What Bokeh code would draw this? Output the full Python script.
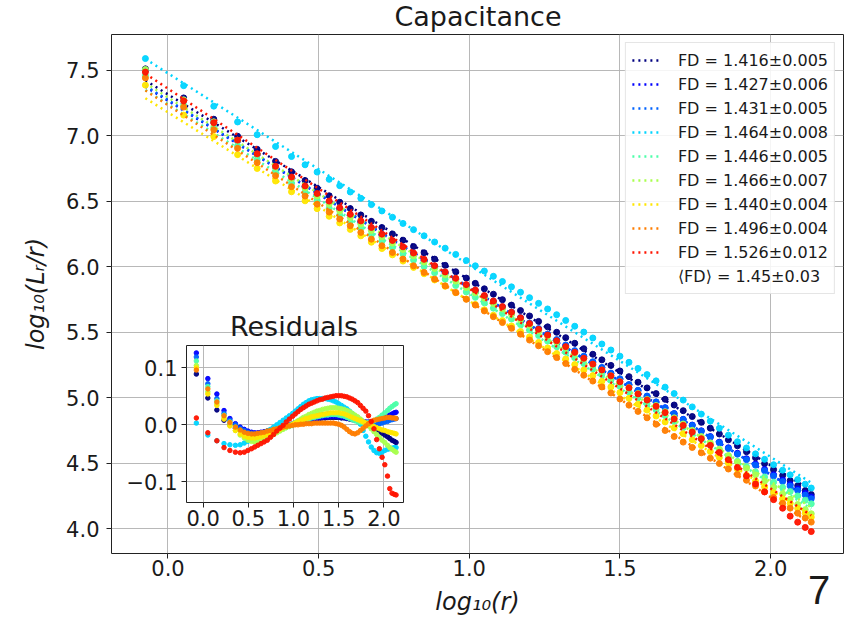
from bokeh.plotting import figure
from bokeh.models import (Range1d, FixedTicker, PrintfTickFormatter, CustomJSTickFormatter,
                          Legend, LegendItem, Div, GridBox)
from bokeh.embed import file_html
from bokeh.resources import INLINE

# ---------------- data ----------------
X = [-0.075, 0.052, 0.152, 0.231, 0.296, 0.357, 0.41, 0.455, 0.495, 0.535,
     0.57, 0.605, 0.64, 0.675, 0.71, 0.745, 0.78, 0.815, 0.85, 0.885,
     0.92, 0.955, 0.99, 1.02, 1.05, 1.08, 1.11, 1.14, 1.17, 1.2,
     1.23, 1.26, 1.29, 1.32, 1.35, 1.38, 1.41, 1.44, 1.47, 1.5,
     1.53, 1.56, 1.59, 1.62, 1.65, 1.68, 1.71, 1.74, 1.77, 1.8,
     1.83, 1.86, 1.89, 1.92, 1.95, 1.98, 2.01, 2.04, 2.065, 2.09,
     2.115, 2.135]

FD = [1.416, 1.427, 1.431, 1.464, 1.446, 1.466, 1.440, 1.496, 1.526]
FD_ERR = ["0.005", "0.006", "0.005", "0.008", "0.005", "0.007", "0.004", "0.004", "0.012"]
INTERCEPT = [7.315, 7.267, 7.273, 7.476, 7.240, 7.292, 7.178, 7.233, 7.359]
MEAN_LABEL = "⟨FD⟩ = 1.45±0.03"
TITLE = "Capacitance"
INSET_TITLE = "Residuals"
PANEL_LABEL = "7"

RES_NAVY = [0.089, 0.047, 0.026, 0.008, 0.0, -0.006, -0.01, -0.013, -0.015, -0.016,
            -0.016, -0.015, -0.014, -0.013, -0.011, -0.01, -0.008, -0.007, -0.005, -0.004,
            -0.002, -0.001, 0.0, 0.002, 0.003, 0.004, 0.005, 0.006, 0.007, 0.008,
            0.009, 0.01, 0.011, 0.012, 0.012, 0.013, 0.013, 0.013, 0.013, 0.013,
            0.012, 0.012, 0.011, 0.01, 0.009, 0.008, 0.007, 0.005, 0.003, 0.001,
            -0.001, -0.003, -0.006, -0.009, -0.012, -0.015, -0.018, -0.021, -0.024, -0.027,
            -0.029, -0.031]
RES_BLUE = [0.126, 0.081, 0.054, 0.025, 0.011, 0.002, -0.004, -0.008, -0.011, -0.013,
            -0.014, -0.014, -0.013, -0.012, -0.011, -0.01, -0.009, -0.007, -0.006, -0.004,
            -0.003, -0.001, 0.0, 0.002, 0.003, 0.004, 0.006, 0.007, 0.008, 0.009,
            0.01, 0.011, 0.012, 0.013, 0.014, 0.014, 0.015, 0.015, 0.015, 0.014,
            0.014, 0.013, 0.012, 0.011, 0.01, 0.009, 0.008, 0.007, 0.006, 0.005,
            0.005, 0.005, 0.006, 0.007, 0.009, 0.011, 0.013, 0.015, 0.017, 0.019,
            0.021, 0.022]
RES_DODGER = [0.119, 0.072, 0.046, 0.02, 0.008, 0.0, -0.006, -0.01, -0.013, -0.015,
              -0.016, -0.016, -0.015, -0.014, -0.013, -0.011, -0.01, -0.008, -0.006, -0.004,
              -0.002, 0.0, 0.002, 0.004, 0.006, 0.008, 0.01, 0.011, 0.013, 0.014,
              0.015, 0.016, 0.017, 0.018, 0.018, 0.019, 0.019, 0.019, 0.018, 0.018,
              0.017, 0.016, 0.015, 0.013, 0.011, 0.009, 0.007, 0.005, 0.003, 0.002,
              0.001, 0.0, 0.0, 0.001, 0.002, 0.003, 0.005, 0.006, 0.008, 0.009,
              0.01, 0.011]
RES_CYAN = [0.003, -0.018, -0.028, -0.033, -0.035, -0.036, -0.035, -0.032, -0.029, -0.026,
            -0.023, -0.02, -0.017, -0.014, -0.011, -0.008, -0.004, 0.0, 0.004, 0.008,
            0.012, 0.016, 0.02, 0.024, 0.028, 0.032, 0.036, 0.039, 0.042, 0.044,
            0.045, 0.046, 0.046, 0.046, 0.046, 0.045, 0.044, 0.042, 0.04, 0.037,
            0.034, 0.031, 0.028, 0.024, 0.02, 0.015, 0.009, 0.001, -0.01, -0.02,
            -0.03, -0.039, -0.045, -0.049, -0.05, -0.048, -0.045, -0.043, -0.042, -0.041,
            -0.04, -0.04]
RES_AQUA = [0.112, 0.067, 0.042, 0.017, 0.005, -0.004, -0.01, -0.015, -0.018, -0.02,
            -0.021, -0.021, -0.02, -0.019, -0.017, -0.015, -0.013, -0.011, -0.009, -0.007,
            -0.005, -0.003, -0.001, 0.001, 0.003, 0.005, 0.007, 0.009, 0.01, 0.012,
            0.013, 0.014, 0.015, 0.016, 0.017, 0.017, 0.018, 0.018, 0.018, 0.017,
            0.016, 0.015, 0.013, 0.011, 0.009, 0.007, 0.005, 0.004, 0.003, 0.003,
            0.004, 0.005, 0.007, 0.01, 0.013, 0.017, 0.021, 0.025, 0.029, 0.032,
            0.035, 0.037]
RES_LIME = [0.104, 0.058, 0.037, 0.012, 0.0, -0.01, -0.018, -0.023, -0.027, -0.029,
            -0.03, -0.029, -0.028, -0.026, -0.023, -0.02, -0.017, -0.014, -0.011, -0.008,
            -0.005, -0.002, 0.001, 0.004, 0.007, 0.01, 0.013, 0.015, 0.018, 0.02,
            0.022, 0.024, 0.025, 0.027, 0.028, 0.029, 0.03, 0.03, 0.03, 0.029,
            0.028, 0.027, 0.025, 0.023, 0.02, 0.017, 0.014, 0.01, 0.006, 0.002,
            -0.002, -0.007, -0.012, -0.017, -0.022, -0.027, -0.031, -0.036, -0.04, -0.043,
            -0.046, -0.048]
RES_GOLD = [0.1, 0.054, 0.034, 0.01, -0.002, -0.01, -0.016, -0.02, -0.022, -0.023,
            -0.023, -0.022, -0.021, -0.019, -0.017, -0.015, -0.012, -0.01, -0.008, -0.005,
            -0.003, -0.001, 0.001, 0.003, 0.005, 0.007, 0.009, 0.011, 0.012, 0.014,
            0.015, 0.016, 0.017, 0.018, 0.019, 0.02, 0.021, 0.021, 0.021, 0.021,
            0.02, 0.019, 0.017, 0.015, 0.013, 0.011, 0.009, 0.007, 0.005, 0.003,
            0.001, -0.001, -0.003, -0.005, -0.007, -0.009, -0.01, -0.012, -0.013, -0.014,
            -0.015, -0.016]
RES_ORANGE = [0.096, 0.063, 0.04, 0.016, 0.004, -0.004, -0.009, -0.013, -0.015, -0.016,
              -0.016, -0.015, -0.014, -0.013, -0.011, -0.01, -0.008, -0.007, -0.005, -0.004,
              -0.003, -0.002, -0.001, 0.0, 0.0, 0.001, 0.001, 0.002, 0.002, 0.002,
              0.003, 0.003, 0.003, 0.003, 0.003, 0.003, 0.003, 0.003, 0.002, 0.001,
              -0.001, -0.004, -0.008, -0.012, -0.015, -0.016, -0.014, -0.01, -0.006, -0.002,
              0.002, 0.005, 0.008, 0.009, 0.01, 0.011, 0.012, 0.013, 0.013, 0.012,
              0.012, 0.011]
RES_RED = [0.012, -0.014, -0.028, -0.04, -0.045, -0.048, -0.049, -0.048, -0.045, -0.042,
           -0.039, -0.036, -0.033, -0.03, -0.027, -0.022, -0.017, -0.011, -0.006, -0.001,
           0.005, 0.01, 0.015, 0.019, 0.023, 0.027, 0.03, 0.033, 0.036, 0.038,
           0.04, 0.042, 0.044, 0.045, 0.047, 0.048, 0.049, 0.05, 0.051, 0.051,
           0.051, 0.05, 0.049, 0.047, 0.045, 0.042, 0.039, 0.034, 0.029, 0.024,
           0.016, 0.006, -0.007, -0.026, -0.042, -0.057, -0.07, -0.09, -0.112, -0.12,
           -0.122, -0.123]

RESIDUALS = [RES_NAVY, RES_BLUE, RES_DODGER, RES_CYAN, RES_AQUA,
             RES_LIME, RES_GOLD, RES_ORANGE, RES_RED]
COLORS = ["#000080", "#0000ff", "#0063ff", "#00d4ff", "#4dffaa",
          "#a9ff4e", "#ffe600", "#ff7d00", "#ff1400"]

X_TICKS = [0.0, 0.5, 1.0, 1.5, 2.0]
Y_TICKS = [4.0, 4.5, 5.0, 5.5, 6.0, 6.5, 7.0, 7.5]
INSET_Y_TICKS = [-0.1, 0.0, 0.1]

FONT = "DejaVu Sans"
TXT = "#1a1a1a"


def style_axis(ax, size):
    ax.axis_line_color = None
    ax.major_tick_line_color = "#222222"
    ax.major_tick_out = 5
    ax.major_tick_in = 0
    ax.minor_tick_line_color = None
    ax.major_label_text_font = FONT
    ax.major_label_text_font_size = size
    ax.major_label_text_color = TXT
    ax.axis_label_text_font = FONT
    ax.axis_label_text_font_size = "24px"
    ax.axis_label_text_font_style = "italic"
    ax.axis_label_text_color = TXT


# ---------------- main figure ----------------
W, H = 846, 622
p = figure(width=W, height=H, output_backend="svg", toolbar_location=None,
           x_range=Range1d(-0.1875, 2.242), y_range=Range1d(3.8105, 7.7725),
           min_border_left=111, min_border_right=3, min_border_top=34,
           min_border_bottom=69)
p.outline_line_color = "#222222"
p.outline_line_width = 1
p.outline_line_alpha = 1
for ax in (p.xaxis[0], p.yaxis[0]):
    style_axis(ax, "21px")
    ax.formatter = PrintfTickFormatter(format="%.1f")
p.xaxis.ticker = FixedTicker(ticks=X_TICKS)
p.yaxis.ticker = FixedTicker(ticks=Y_TICKS)
p.xaxis.major_label_standoff = 1
p.yaxis.major_label_standoff = 7
p.xaxis.axis_label = "log₁₀(r)"
p.yaxis.axis_label = "log₁₀(Lᵣ/r)"
p.xaxis.axis_label_standoff = 9
p.yaxis.axis_label_standoff = 13
p.grid.grid_line_color = "#b0b0b0"
p.grid.grid_line_width = 1
p.grid.grid_line_alpha = 0.9

# ---------------- inset figure ----------------
q = figure(width=284, height=195, output_backend="svg", toolbar_location=None,
           x_range=Range1d(-0.184, 2.217), y_range=Range1d(-0.1363, 0.1391),
           min_border_left=62, min_border_right=4, min_border_top=4,
           min_border_bottom=34)
q.border_fill_alpha = 0
q.background_fill_color = "white"
q.outline_line_color = "#222222"
q.outline_line_alpha = 1
for ax in (q.xaxis[0], q.yaxis[0]):
    style_axis(ax, "21px")
    ax.formatter = CustomJSTickFormatter(code="return tick.toFixed(1).replace('-', '\u2212');")
q.xaxis.major_label_standoff = 2
q.yaxis.major_label_standoff = 4
q.xaxis.ticker = FixedTicker(ticks=X_TICKS)
q.yaxis.ticker = FixedTicker(ticks=INSET_Y_TICKS)
q.grid.grid_line_color = "#b0b0b0"
q.grid.grid_line_width = 1
q.grid.grid_line_alpha = 0.9

# ---------------- glyphs ----------------
items = []
x_fit = [X[0], X[-1]]
for i, c in enumerate(COLORS):
    res = RESIDUALS[i]
    y_data = [INTERCEPT[i] - FD[i] * xv + r for xv, r in zip(X, res)]
    y_fit = [INTERCEPT[i] - FD[i] * xv for xv in x_fit]
    p.scatter(X, y_data, size=6, marker="circle", fill_color=c, line_color=c,
              fill_alpha=0.95, line_alpha=0.95)
    ln = p.line(x_fit, y_fit, line_color=c, line_width=2.5, line_dash="2 4")
    items.append(LegendItem(label=f"FD = {FD[i]:.3f}±{FD_ERR[i]}", renderers=[ln]))
    q.scatter(X, res, size=4.5, marker="circle", fill_color=c, line_color=c,
              fill_alpha=0.95, line_alpha=0.95)

ghost = p.line(x_fit, [INTERCEPT[0], INTERCEPT[0]], line_alpha=0)
items.append(LegendItem(label=MEAN_LABEL, renderers=[ghost]))

legend = Legend(items=items, location="top_right", margin=8, padding=6,
                spacing=2, glyph_width=30, glyph_height=22, label_height=22,
                label_standoff=16, label_text_font=FONT, label_text_font_size="16px",
                label_text_color=TXT, border_line_color="#cccccc", border_line_width=1,
                background_fill_color="white", background_fill_alpha=0.85)
p.add_layout(legend, "center")

# ---------------- floating texts ----------------
def text_div(txt, left, top, width, height, size, family, lh):
    return Div(text=f"<div style='font-family:{family};font-size:{size}px;line-height:{lh}px;"
                    f"color:{TXT};text-align:center;width:{width}px'>{txt}</div>",
               width=width, height=height,
               styles={"position": "absolute", "left": f"{left}px", "top": f"{top}px",
                       "z-index": "3"})

title_div = text_div(TITLE, 328, 1, 300, 32, 27, FONT, 32)
inset_title_div = text_div(INSET_TITLE, 194, 311, 200, 32, 27, FONT, 32)
panel_div = text_div(PANEL_LABEL, 802, 567, 34, 46, 40, "Liberation Sans", 46)
p.elements = [title_div, inset_title_div, panel_div]

root = GridBox(children=[(p, 0, 0, 3, 3), (q, 1, 1, 1, 1)],
               rows=["341px", "195px", "86px"], cols=["123px", "284px", "439px"],
               spacing=0)

open("out.html", "w").write(file_html(root, INLINE))
